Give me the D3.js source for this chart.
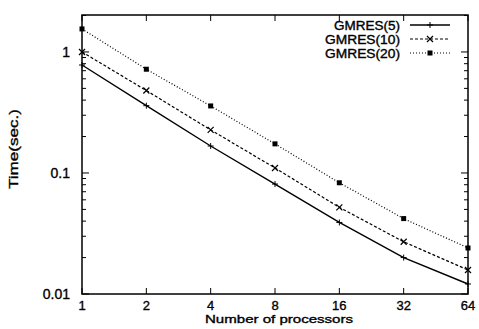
<!DOCTYPE html>
<html>
<head>
<meta charset="utf-8">
<script src="https://cdn.jsdelivr.net/npm/d3@7"></script>
<style>
  body { margin: 0; background: #fff; }
  svg { font-family: "Liberation Sans", Arial, sans-serif; }
  text { fill: #000; stroke: #000; stroke-width: 0.35; }
</style>
</head>
<body>
<div id="chart"></div>
<script>
const processors = [1, 2, 4, 8, 16, 32, 64];
const gmres5 = [0.78, 0.36, 0.167, 0.081, 0.039, 0.020, 0.0121];
const gmres10 = [1.0, 0.48, 0.227, 0.110, 0.052, 0.027, 0.0158];
const gmres20 = [1.55, 0.72, 0.358, 0.174, 0.083, 0.042, 0.024];
const yTicks = [0.01, 0.1, 1];
const seriesNames = ['GMRES(5)', 'GMRES(10)', 'GMRES(20)'];

const series = [
  { name: seriesNames[0], values: gmres5, dash: null, marker: 'plus' },
  { name: seriesNames[1], values: gmres10, dash: '3,2', marker: 'cross' },
  { name: seriesNames[2], values: gmres20, dash: '1,2', marker: 'square' }
];

const W = 479, H = 329;
const margin = { top: 15, right: 11, bottom: 35, left: 82 };
const width = W - margin.left - margin.right;
const height = H - margin.top - margin.bottom;

const svg = d3.select('#chart').append('svg')
  .attr('width', W).attr('height', H);
const g = svg.append('g').attr('transform', `translate(${margin.left},${margin.top})`);

const x = d3.scaleLog().base(2).domain([1, 64]).range([0, width]);
const y = d3.scaleLog().domain([0.01, 2.02]).range([height, 0]);

// minor ticks on y (inside, both sides)
const minor = [];
for (let e = -2; e <= 0; e++) for (let m = 1; m <= 9; m++) {
  const v = m * Math.pow(10, e);
  if (v <= 2.02) minor.push(v);
}
minor.forEach(v => {
  const major = yTicks.includes(v);
  const len = major ? 7 : 4;
  g.append('line').attr('x1', 0).attr('x2', len).attr('y1', y(v)).attr('y2', y(v))
    .attr('stroke', '#000').attr('stroke-width', 1);
  g.append('line').attr('x1', width).attr('x2', width - len).attr('y1', y(v)).attr('y2', y(v))
    .attr('stroke', '#000').attr('stroke-width', 1);
});
processors.forEach(p => {
  g.append('line').attr('x1', x(p)).attr('x2', x(p)).attr('y1', height).attr('y2', height - 6)
    .attr('stroke', '#000');
  g.append('line').attr('x1', x(p)).attr('x2', x(p)).attr('y1', 0).attr('y2', 6)
    .attr('stroke', '#000');
});

// frame
g.append('rect').attr('width', width).attr('height', height)
  .attr('fill', 'none').attr('stroke', '#000').attr('stroke-width', 1.5);

// tick labels
g.selectAll('.xl').data(processors).enter().append('text')
  .attr('x', d => x(d)).attr('y', height + 16)
  .attr('text-anchor', 'middle').attr('font-size', 13)
  .text(d => d);
g.selectAll('.yl').data(yTicks).enter().append('text')
  .attr('x', -12).attr('y', d => y(d) + 5)
  .attr('text-anchor', 'end').attr('font-size', 14)
  .text(d => d);

// axis titles
svg.append('text').attr('x', 279).attr('y', H - 6)
  .attr('text-anchor', 'middle').attr('font-size', 11.5)
  .attr('textLength', 148).attr('lengthAdjust', 'spacingAndGlyphs')
  .text('Number of processors');
svg.append('text').attr('transform', `translate(18,149) rotate(-90)`)
  .attr('text-anchor', 'middle').attr('font-size', 13.5)
  .attr('textLength', 80).attr('lengthAdjust', 'spacingAndGlyphs')
  .text('Time(sec.)');

const line = d3.line().x((d, i) => x(processors[i])).y(d => y(d));

function drawMarker(sel, type, cx, cy) {
  if (type === 'plus') {
    sel.append('path').attr('d', `M${cx - 3},${cy}H${cx + 3}M${cx},${cy - 3}V${cy + 3}`)
      .attr('stroke', '#000').attr('stroke-width', 1);
  } else if (type === 'cross') {
    sel.append('path').attr('d', `M${cx - 3},${cy - 3}L${cx + 3},${cy + 3}M${cx - 3},${cy + 3}L${cx + 3},${cy - 3}`)
      .attr('stroke', '#000').attr('stroke-width', 1.2);
  } else {
    sel.append('rect').attr('x', cx - 2.5).attr('y', cy - 2.5).attr('width', 5).attr('height', 5)
      .attr('fill', '#000');
  }
}

series.forEach(s => {
  g.append('path').datum(s.values)
    .attr('d', line).attr('fill', 'none').attr('stroke', '#000')
    .attr('stroke-width', s.dash ? 1.2 : 1.4)
    .attr('stroke-dasharray', s.dash);
  s.values.forEach((v, i) => drawMarker(g, s.marker, x(processors[i]), y(v)));
});

// legend
const legendWidths = [66, 75, 75];
const legend = g.append('g');
series.forEach((s, i) => {
  const ly = 10 + i * 14;
  legend.append('text').attr('x', 318).attr('y', ly + 4.5)
    .attr('text-anchor', 'end').attr('font-size', 12)
    .attr('textLength', legendWidths[i]).attr('lengthAdjust', 'spacingAndGlyphs')
    .text(s.name);
  legend.append('line').attr('x1', 328).attr('x2', 368).attr('y1', ly).attr('y2', ly)
    .attr('stroke', '#000').attr('stroke-width', s.dash ? 1.2 : 1.4)
    .attr('stroke-dasharray', s.dash);
  drawMarker(legend, s.marker, 348, ly);
});
</script>
</body>
</html>
